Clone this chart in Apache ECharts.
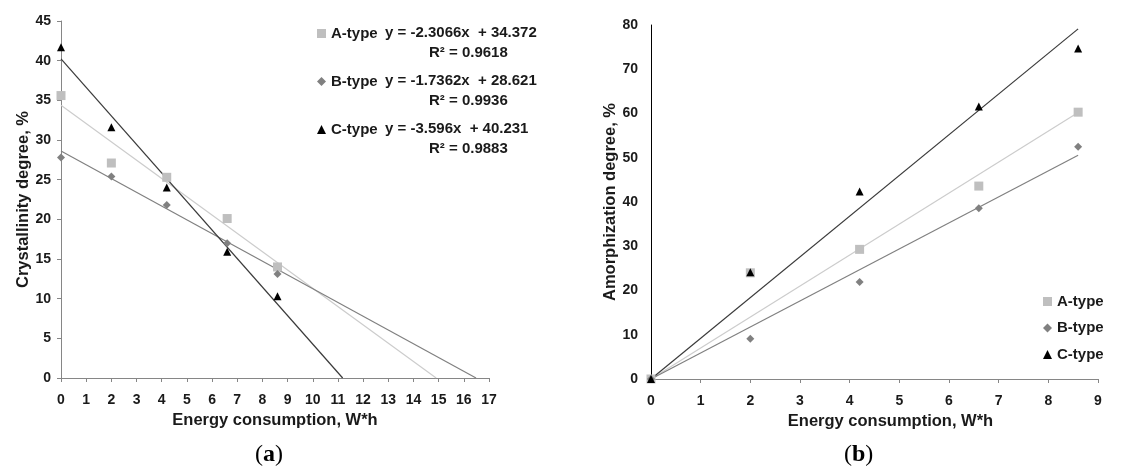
<!DOCTYPE html>
<html>
<head>
<meta charset="utf-8">
<script src="https://cdn.jsdelivr.net/npm/echarts@6/dist/echarts.min.js"></script>
<style>
body{margin:0;background:#fff;}
#chart{width:1131px;height:470px;}
</style>
</head>
<body>
<div id="chart"></div>
<script>
// data
var names = ['A-type', 'B-type', 'C-type'];
var energy = [0, 2, 4.2, 6.6, 8.6];

// (a) crystallinity degree, %
var crystA = [35.6, 27.1, 25.3, 20.1, 14.0];
var crystB = [27.8, 25.4, 21.8, 17.0, 13.1];
var crystC = [41.7, 31.6, 24.0, 15.9, 10.3];
var trendSlope = [-2.3066, -1.7362, -3.596];
var trendIntercept = [34.372, 28.621, 40.231];
var trendR2 = ['0.9618', '0.9936', '0.9883'];

// (b) amorphization degree, %
var amorA = [0, 24.0, 29.3, 43.6, 60.3];
var amorB = [0, 9.1, 21.9, 38.6, 52.5];
var amorC = [0, 24.1, 42.4, 61.6, 74.7];
var amorSlope = [7.0, 5.88, 9.2];

var xTicksA = [0, 17, 1];
var yTicksA = [0, 45, 5];
var xTicksB = [0, 9, 1];
var yTicksB = [0, 80, 10];

var colors = ['#bfbfbf', '#808080', '#000000'];
var lineColors = ['#cccccc', '#808080', '#3a3a3a'];
var symbols = ['rect', 'diamond', 'triangle'];
var symSizes = [9, 8, 8];
var font = "'Liberation Sans', Arial, sans-serif";

function pairs(xs, ys){
	var out = [];
	for (var i = 0; i < xs.length; i++) out.push([xs[i], ys[i]]);
	return out;
}

function axis(idx, t, name, gap, lineColor, showTick, margin, namePad){
	return {
		type: 'value', gridIndex: idx, min: t[0], max: t[1], interval: t[2],
		name: name, nameLocation: 'middle', nameGap: gap,
		nameTextStyle: {fontFamily: font, fontWeight: 'bold', fontSize: 16.5, color: '#1a1a1a', padding: namePad || 0},
		axisLine: {show: true, onZero: false, lineStyle: {color: lineColor, width: 1}},
		axisTick: {show: showTick, length: 4, lineStyle: {color: lineColor}},
		axisLabel: {fontFamily: font, fontWeight: 'bold', fontSize: 14, color: '#1a1a1a', margin: margin},
		splitLine: {show: false}
	};
}

var chart = echarts.init(document.getElementById('chart'));
var series = [];
var sets = [[crystA, crystB, crystC], [amorA, amorB, amorC]];

for (var g = 0; g < 2; g++){
	// trend lines
	for (var k = 0; k < 3; k++){
		var p1, p2;
		if (g == 0){
			p1 = [0, trendIntercept[k]];
			p2 = [-trendIntercept[k] / trendSlope[k], 0];
		} else {
			var xe = energy[energy.length - 1];
			p1 = [0, 0];
			p2 = [xe, amorSlope[k] * xe];
		}
		series.push({
			type: 'line', xAxisIndex: g, yAxisIndex: g, data: [p1, p2],
			showSymbol: false, silent: true, z: 1,
			lineStyle: {color: lineColors[k], width: 1.2}
		});
	}
	// measured points
	for (var k = 0; k < 3; k++){
		series.push({
			name: names[k], type: 'scatter', xAxisIndex: g, yAxisIndex: g,
			data: pairs(energy, sets[g][k]),
			symbol: symbols[k], symbolSize: symSizes[k], z: 3,
			itemStyle: {color: colors[k], opacity: 1}
		});
	}
}

var legendText = {fontFamily: font, fontWeight: 'bold', fontSize: 15, color: '#1a1a1a'};
var graphics = [];
for (var k = 0; k < 3; k++){
	var sign = trendIntercept[k] >= 0 ? '+' : '-';
	graphics.push({
		type: 'text', left: 385, top: 25 + k * 48,
		style: {text: 'y = ' + trendSlope[k] + 'x  ' + sign + ' ' + Math.abs(trendIntercept[k]),
			font: 'bold 15px ' + font, fill: '#1a1a1a'}
	});
	graphics.push({
		type: 'text', left: 429, top: 45 + k * 48,
		style: {text: 'R\u00b2 = ' + trendR2[k], font: 'bold 15px ' + font, fill: '#1a1a1a'}
	});
}
var capRich = {p: {font: '24px "Liberation Serif", serif', fill: '#000'}, b: {font: 'bold 24px "Liberation Serif", serif', fill: '#000'}};
graphics.push({type: 'text', left: 255, top: 443, style: {rich: capRich, text: '{p|(}{b|a}{p|)}'}});
graphics.push({type: 'text', left: 844, top: 443, style: {rich: capRich, text: '{p|(}{b|b}{p|)}'}});

option = {
	backgroundColor: '#fff',
	animation: false,
	grid: [
		{left: 61, top: 21, width: 428, height: 357},
		{left: 651, top: 25, width: 447, height: 354}
	],
	xAxis: [
		axis(0, xTicksA, 'Energy consumption, W*h', 33, '#868686', true, 15),
		axis(1, xTicksB, 'Energy consumption, W*h', 33, '#868686', true, 15, [0, 0, 0, 32])
	],
	yAxis: [
		axis(0, yTicksA, 'Crystallinity degree, %', 27, '#868686', true, 10),
		axis(1, yTicksB, 'Amorphization degree, %', 32, '#000000', false, 13)
	],
	legend: [
		{data: names, orient: 'vertical', left: 317, top: 26, padding: 0, itemGap: 33, itemWidth: 9, itemHeight: 9,
			textStyle: legendText, selectedMode: false},
		{data: names, orient: 'vertical', left: 1043, top: 294, padding: 0, itemGap: 11.5, itemWidth: 9, itemHeight: 9,
			textStyle: legendText, selectedMode: false}
	],
	graphic: graphics,
	series: series
};

chart.setOption(option);
</script>
</body>
</html>
